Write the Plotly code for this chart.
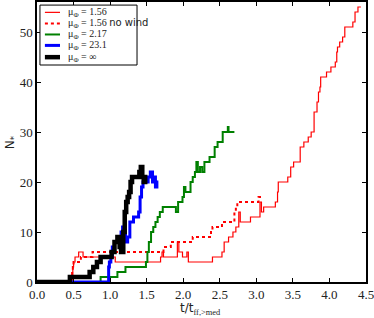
import plotly.graph_objects as go

# mu_Phi = 1.56 (solid red)
red_x = [0, 0.49, 0.50, 0.52, 0.57, 0.63, 1.07, 1.69, 1.71, 1.73, 1.92, 1.94, 1.99, 2.05, 2.07, 2.40, 2.53, 2.56,
         2.62, 2.68, 2.72, 2.76, 2.78, 2.92, 3.05, 3.07, 3.10, 3.26, 3.29, 3.30, 3.43, 3.47, 3.51, 3.60, 3.65,
         3.71, 3.75, 3.79, 3.83, 3.85, 3.87, 3.88, 3.96, 4.02, 4.08, 4.10, 4.11, 4.14, 4.18, 4.21, 4.32, 4.35,
         4.39, 4.43]
red_y = [0, 3, 4, 5, 6, 5, 4, 5, 6, 5, 8, 6, 5, 6, 4, 5, 6, 8,
         9, 10, 11, 14, 12, 13, 16, 14, 15, 16, 18, 20, 21, 23, 24, 27, 28,
         29, 30, 34, 36, 38, 39, 41, 42, 43, 44, 46, 47, 48, 49, 51, 52, 54,
         55, 55]

# mu_Phi = 1.56 no wind (dotted red)
dot_x = [0, 0.47, 0.48, 0.49, 0.50, 0.60, 0.76, 1.73, 1.83, 2.13, 2.38, 2.40, 2.53, 2.70, 2.72, 2.74, 3.03, 3.09]
dot_y = [0, 1, 2, 3, 4, 5, 6, 7, 8, 9, 10, 11, 12, 14, 15, 16, 17, 17]

# mu_Phi = 2.17 (green)
green_x = [0, 0.80, 0.87, 1.10, 1.21, 1.49, 1.51, 1.53, 1.56, 1.59, 1.62, 1.65, 1.68, 1.72, 1.90, 1.93, 1.99,
           2.01, 2.03, 2.06, 2.10, 2.13, 2.16, 2.18, 2.20, 2.23, 2.26, 2.29, 2.36, 2.43, 2.47, 2.54, 2.61,
           2.62, 2.70]
green_y = [0, 0, 1, 2, 3, 4, 6, 8, 10, 11, 12, 13, 14, 15, 14, 16, 17,
           19, 18, 18, 20, 21, 22, 24, 22, 23, 22, 24, 25, 27, 28, 30, 31,
           30, 30]

# mu_Phi = 23.1 (blue)
blue_x = [0, 0.98, 0.99, 1.01, 1.03, 1.06, 1.10, 1.15, 1.17, 1.19, 1.21, 1.24, 1.27, 1.32, 1.39, 1.41, 1.43,
          1.45, 1.47, 1.50, 1.52, 1.55, 1.58, 1.60, 1.62, 1.64, 1.66]
blue_y = [0, 3, 4, 5, 7, 8, 9, 10, 11, 10, 8, 9, 12, 13, 14, 17, 19,
          20, 21, 20, 21, 22, 20, 21, 19, 20, 20]

# mu_Phi = infinity (black)
black_x = [0, 0.45, 0.72, 0.77, 0.82, 0.87, 1.02, 1.06, 1.10, 1.13, 1.15, 1.18, 1.20, 1.22, 1.24, 1.26, 1.28,
           1.30, 1.40, 1.42, 1.44, 1.46, 1.48, 1.51]
black_y = [0, 1, 2, 3, 4, 5, 6, 8, 9, 7, 6, 10, 14, 16, 17, 18, 20,
           21, 22, 23, 21, 20, 21, 21]

serif = "Liberation Serif"
names = ["μ<sub>Φ</sub> = 1.56",
         "μ<sub>Φ</sub> = 1.56 <span style='font-family:DejaVu Sans'>no wind</span>",
         "μ<sub>Φ</sub> = 2.17", "μ<sub>Φ</sub> = 23.1", "μ<sub>Φ</sub> = ∞"]
x_ticks = [0.0, 0.5, 1.0, 1.5, 2.0, 2.5, 3.0, 3.5, 4.0, 4.5]
y_ticks = [0, 10, 20, 30, 40, 50]

styles = [dict(color="red", width=1.2), dict(color="red", width=2, dash="dot"),
          dict(color="green", width=2), dict(color="blue", width=3), dict(color="black", width=4.5)]
series = list(zip([red_x, dot_x, green_x, blue_x, black_x], [red_y, dot_y, green_y, blue_y, black_y], names, styles))

fig = go.Figure()
for xs, ys, nm, ln in series:
    assert len(xs) == len(ys)
    fig.add_trace(go.Scatter(x=xs, y=ys, mode="lines", name=nm, showlegend=False,
                             line=dict(shape="hv", **ln)))

# compact legend box (top-left, inside the axes)
fig.add_shape(type="rect", xref="paper", yref="paper", x0=0.009, x1=0.304, y0=0.775, y1=0.989,
              line=dict(color="black", width=1), fillcolor="white", layer="above")
row_y = [0.963, 0.923, 0.884, 0.845, 0.803]
for (xs, ys, nm, ln), ry in zip(series, row_y):
    fig.add_shape(type="line", xref="paper", yref="paper", x0=0.024, x1=0.070, y0=ry, y1=ry,
                  line=ln, layer="above")
    fig.add_annotation(text=nm, xref="paper", yref="paper", x=0.088, y=ry, xanchor="left",
                       yanchor="middle", showarrow=False,
                       font=dict(family=serif, size=10, color="#222"))

axis_common = dict(showgrid=False, zeroline=False, showline=True, linecolor="black", linewidth=1.5,
                   mirror="allticks", ticks="inside", ticklen=4, tickcolor="black",
                   tickfont=dict(family=serif, size=13, color="#222"))
fig.update_layout(
    width=374, height=318,
    margin=dict(l=37, r=8, t=2, b=36, autoexpand=False),
    paper_bgcolor="white", plot_bgcolor="white",
    showlegend=False,
    xaxis=dict(range=[0, 4.5], tickvals=x_ticks, ticktext=[f"{v:.1f}" for v in x_ticks],
               ticklabeloverflow="allow", **axis_common),
    yaxis=dict(range=[0, 56], tickvals=y_ticks, ticklabeloverflow="allow", **axis_common),
)
fig.add_annotation(text="t/t<sub><span style='font-family:Liberation Serif'>ff,>med</span></sub>",
                   xref="paper", yref="paper", x=0.498, y=-0.062, xanchor="center", yanchor="top",
                   showarrow=False, font=dict(family="DejaVu Sans", size=12, color="#222"))
fig.add_annotation(text="N<sub>*</sub>", xref="paper", yref="paper", x=-0.109, y=0.496, textangle=-90,
                   xanchor="left", yanchor="middle", showarrow=False,
                   font=dict(family="DejaVu Sans", size=12, color="#222"))
fig.write_html("out.html", config={"displayModeBar": False},
               post_script="document.body.style.margin='0';document.body.style.padding='0';")
